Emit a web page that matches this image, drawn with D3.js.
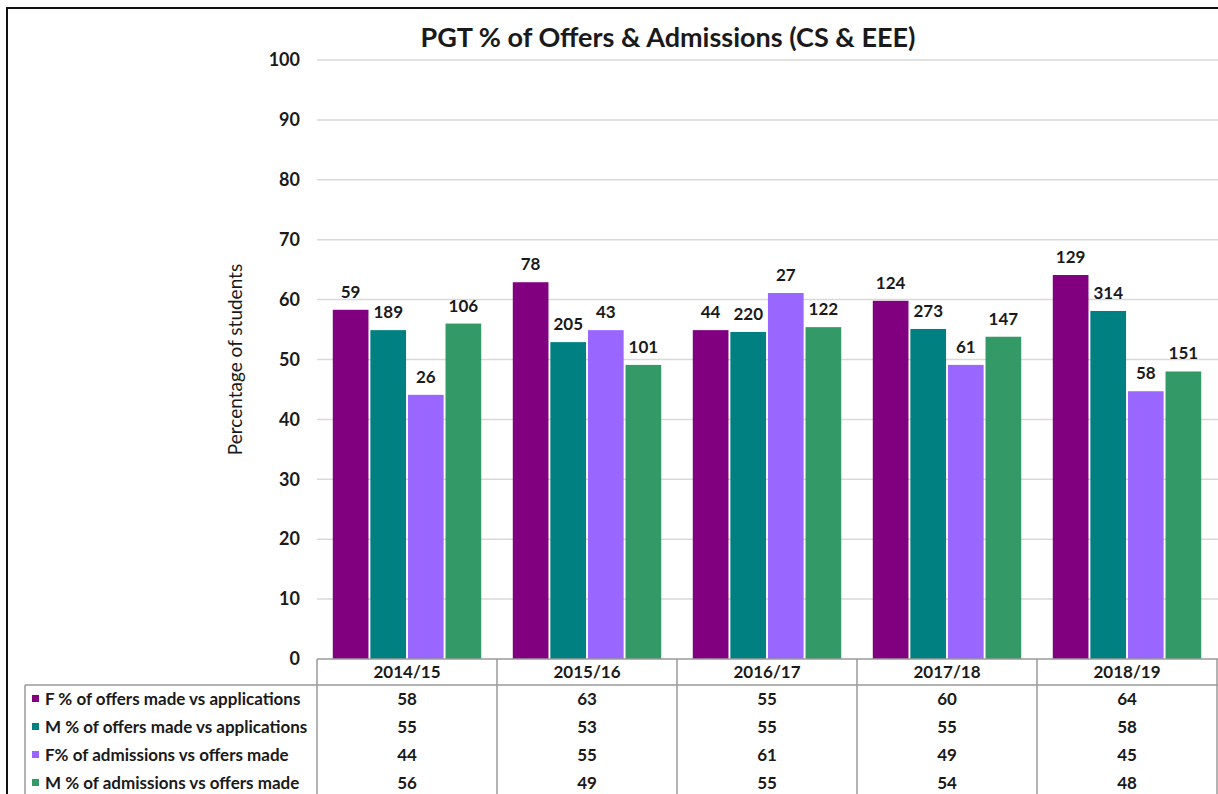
<!DOCTYPE html>
<html>

<head>
    <meta charset="utf-8">
    <title>PGT % of Offers & Admissions</title>
    <script src="https://cdnjs.cloudflare.com/ajax/libs/d3/7.8.5/d3.min.js"></script>
    <style>
        body { margin: 0; background: #fff; }
        text { font-family: Lato, "Open Sans", sans-serif; fill: #1a1a1a; }
    </style>
</head>

<body>
    <script>
        // data
        var years = ["2014/15", "2015/16", "2016/17", "2017/18", "2018/19"];
        var seriesNames = [
            "F % of offers made vs applications",
            "M % of offers made vs applications",
            "F% of admissions vs offers made",
            "M % of admissions vs offers made"
        ];
        var fOffers = [58.3, 62.9, 54.9, 59.8, 64.1];
        var mOffers = [54.9, 52.9, 54.6, 55.1, 58.1];
        var fAdmissions = [44.1, 54.9, 61.1, 49.1, 44.7];
        var mAdmissions = [56.0, 49.1, 55.4, 53.8, 48.0];
        // student counts shown above the bars
        var fOffersCount = [59, 78, 44, 124, 129];
        var mOffersCount = [189, 205, 220, 273, 314];
        var fAdmissionsCount = [26, 43, 27, 61, 58];
        var mAdmissionsCount = [106, 101, 122, 147, 151];
        var yTicks = [0, 10, 20, 30, 40, 50, 60, 70, 80, 90, 100];

        var colors = ["#800080", "#008080", "#9966ff", "#339966"];
        var values = [fOffers, mOffers, fAdmissions, mAdmissions];
        var counts = [fOffersCount, mOffersCount, fAdmissionsCount, mAdmissionsCount];

        var W = 1218, H = 794;
        var plotLeft = 317, plotRight = 1217, plotTop = 60, plotBottom = 659;
        var rowH = 28;
        var fs = "17px";

        var svg = d3.select("body").append("svg")
            .attr("width", W)
            .attr("height", H);

        // outer frame (cut off on the right / bottom in the original)
        svg.append("rect")
            .attr("x", 7).attr("y", 8)
            .attr("width", W).attr("height", H)
            .attr("fill", "none")
            .attr("stroke", "#111")
            .attr("stroke-width", 2);

        var x0 = d3.scaleBand().domain(years).range([plotLeft, plotRight]);
        var x1 = d3.scaleBand().domain(d3.range(4))
            .range([0, x0.bandwidth()])
            .paddingInner(0.05).paddingOuter(0.42);
        var y = d3.scaleLinear().domain([0, 100]).range([plotBottom, plotTop]);

        // gridlines
        svg.append("g")
            .selectAll("line")
            .data(yTicks.slice(1))
            .join("line")
            .attr("x1", plotLeft).attr("x2", W)
            .attr("y1", d => y(d)).attr("y2", d => y(d))
            .attr("stroke", "#d9d9d9")
            .attr("stroke-width", 1.5);

        // y axis labels
        var yAxis = svg.append("g")
            .attr("transform", "translate(" + (plotLeft - 17) + ",0)")
            .call(d3.axisLeft(y).tickValues(yTicks).tickSize(0).tickPadding(0));
        yAxis.select(".domain").remove();
        yAxis.selectAll("text")
            .style("font-size", "18px")
            .style("font-weight", "bold")
            .attr("fill", "#222");

        svg.append("text")
            .attr("transform", "translate(242," + y(50) + ") rotate(-90)")
            .attr("text-anchor", "middle")
            .style("font-size", "19px")
            .text("Percentage of students");

        // title
        svg.append("text")
            .attr("x", 668).attr("y", 47)
            .attr("text-anchor", "middle")
            .style("font-size", "27px")
            .style("font-weight", "bold")
            .text("PGT % of Offers & Admissions (CS & EEE)");

        // bars
        var groups = svg.append("g")
            .selectAll("g")
            .data(years)
            .join("g")
            .attr("transform", d => "translate(" + x0(d) + ",0)");

        groups.selectAll("rect")
            .data((d, i) => values.map((v, s) => ({ s: s, v: v[i] })))
            .join("rect")
            .attr("x", d => x1(d.s))
            .attr("y", d => y(d.v))
            .attr("width", x1.bandwidth())
            .attr("height", d => y(0) - y(d.v))
            .attr("fill", d => colors[d.s]);

        groups.selectAll("text")
            .data((d, i) => counts.map((c, s) => ({ s: s, v: values[s][i], c: c[i] })))
            .join("text")
            .attr("x", d => x1(d.s) + x1.bandwidth() / 2)
            .attr("y", d => y(d.v) - 12)
            .attr("text-anchor", "middle")
            .style("font-size", fs)
            .style("font-weight", "bold")
            .text(d => d.c);

        // data table
        var tableLine = "#9a9a9a";
        var table = svg.append("g");

        table.append("line")
            .attr("x1", plotLeft).attr("x2", W)
            .attr("y1", plotBottom).attr("y2", plotBottom)
            .attr("stroke", tableLine).attr("stroke-width", 1.5);
        table.append("line")
            .attr("x1", 25).attr("x2", W)
            .attr("y1", plotBottom + 26).attr("y2", plotBottom + 26)
            .attr("stroke", tableLine).attr("stroke-width", 1.5);
        table.append("line")
            .attr("x1", 25).attr("x2", 25)
            .attr("y1", plotBottom + 26).attr("y2", H)
            .attr("stroke", tableLine).attr("stroke-width", 1.5);

        table.selectAll(".vline")
            .data(years.concat(["end"]))
            .join("line")
            .attr("class", "vline")
            .attr("x1", (d, i) => i < years.length ? x0(d) : plotRight)
            .attr("x2", (d, i) => i < years.length ? x0(d) : plotRight)
            .attr("y1", plotBottom).attr("y2", H)
            .attr("stroke", tableLine).attr("stroke-width", 1.5);

        table.selectAll(".yr")
            .data(years)
            .join("text")
            .attr("class", "yr")
            .attr("x", d => x0(d) + x0.bandwidth() / 2)
            .attr("y", plotBottom + 19)
            .attr("text-anchor", "middle")
            .style("font-size", fs)
            .style("font-weight", "bold")
            .text(d => d);

        var rows = table.selectAll(".row")
            .data(seriesNames)
            .join("g")
            .attr("class", "row")
            .attr("transform", (d, i) => "translate(0," + (plotBottom + 26 + rowH * (i + 0.5)) + ")");

        rows.append("rect")
            .attr("x", 32).attr("y", -4)
            .attr("width", 7).attr("height", 7)
            .attr("fill", (d, i) => colors[i]);

        rows.append("text")
            .attr("x", 45).attr("y", 6)
            .style("font-size", fs)
            .style("font-weight", "bold")
            .text(d => d);

        rows.selectAll(".cell")
            .data((d, i) => values[i])
            .join("text")
            .attr("class", "cell")
            .attr("x", (d, j) => x0(years[j]) + x0.bandwidth() / 2)
            .attr("y", 6)
            .attr("text-anchor", "middle")
            .style("font-size", fs)
            .style("font-weight", "bold")
            .text(d => d3.format(".0f")(d));
    </script>
</body>

</html>
